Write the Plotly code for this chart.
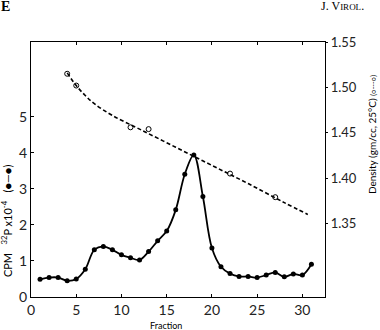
import plotly.graph_objects as go

# CPM 32P x10^-4 (filled circles)
fraction = list(range(1, 32))
cpm = [0.49, 0.54, 0.54, 0.45, 0.50, 0.77, 1.31, 1.40, 1.31, 1.17, 1.09, 1.03,
       1.26, 1.56, 1.83, 2.42, 3.41, 3.94, 2.79, 1.36, 0.84, 0.65, 0.57, 0.57,
       0.54, 0.61, 0.68, 0.56, 0.64, 0.61, 0.91]

# Density (open circles)
dens_fraction = [4, 5, 11, 13, 22, 27]
density = [1.515, 1.502, 1.456, 1.454, 1.405, 1.379]

# Fitted density curve (dashed)
fit_fraction = [4, 5, 6, 7, 9, 12, 16, 20, 24, 28, 30.6]
fit_density = [1.516, 1.502, 1.491, 1.482, 1.469, 1.454, 1.434, 1.414, 1.394, 1.373, 1.360]

x_ticks = [0, 5, 10, 15, 20, 25, 30]
y_ticks = [0, 1, 2, 3, 4, 5]
y2_ticks = [1.35, 1.40, 1.45, 1.50, 1.55]

FONT = "Lato"
fig = go.Figure()
fig.add_trace(go.Scatter(x=fit_fraction, y=fit_density, yaxis="y2", mode="lines",
                         line=dict(color="black", width=1.6, dash="4px,2.5px", shape="spline"),
                         hoverinfo="skip"))
fig.add_trace(go.Scatter(x=dens_fraction, y=density, yaxis="y2", mode="markers",
                         marker=dict(symbol="circle-open", size=5, color="black",
                                     line=dict(width=1, color="black"))))
fig.add_trace(go.Scatter(x=fraction, y=cpm, mode="lines+markers",
                         line=dict(color="black", width=1.8, shape="spline"),
                         marker=dict(symbol="circle", size=5, color="black")))

axis_common = dict(showline=True, linecolor="black", linewidth=1.2, showgrid=False,
                   zeroline=False, ticks="inside", ticklen=3, tickcolor="black",
                   tickfont=dict(family=FONT, size=14, color="#222"))

fig.update_layout(
    width=380, height=330,
    margin=dict(l=31, r=55, t=42, b=33),
    paper_bgcolor="white", plot_bgcolor="white",
    showlegend=False,
    xaxis=dict(range=[0, 32.5], tickvals=x_ticks, mirror="ticks", **axis_common),
    yaxis=dict(range=[0, 7.08], tickvals=y_ticks, **axis_common),
    yaxis2=dict(range=[1.269, 1.55], tickvals=y2_ticks, overlaying="y", side="right",
                ticktext=[f"{v:.2f}" for v in y2_ticks],
                showline=True, linecolor="black", linewidth=1.2, showgrid=False,
                zeroline=False, ticks="outside", ticklen=2, tickcolor="black",
                tickfont=dict(family=FONT, size=13, color="#222")),
    annotations=[
        dict(text="CPM   <sup>32</sup>P x10<sup>-4</sup>   (●—●)", textangle=-90,
             xref="paper", yref="paper", x=-0.083, y=0.30, showarrow=False,
             font=dict(family=FONT, size=11, color="black"),
             xanchor="center", yanchor="middle"),
        dict(text="Density (gm/cc, 25°C) <span style='font-size:7px'>(○---○)</span>",
             textangle=-90, xref="paper", yref="paper", x=1.16, y=0.635,
             showarrow=False, font=dict(family=FONT, size=10, color="black"),
             xanchor="center", yanchor="middle"),
        dict(text="<b>E</b>", xref="paper", yref="paper", x=-0.088, y=1.141,
             showarrow=False, font=dict(family="Liberation Serif", size=14, color="black"),
             xanchor="center", yanchor="middle"),
        dict(text="J. V<span style='font-size:9px'>IROL</span>.", xref="paper", yref="paper",
             x=1.061, y=1.141, showarrow=False,
             font=dict(family="Liberation Serif", size=12, color="black"),
             xanchor="center", yanchor="middle"),
        dict(text="Fraction", xref="paper", yref="paper", x=0.459, y=-0.082,
             showarrow=False, font=dict(family=FONT, size=9, color="black"),
             xanchor="center", yanchor="top"),
    ],
)

fig.write_html("out.html")
